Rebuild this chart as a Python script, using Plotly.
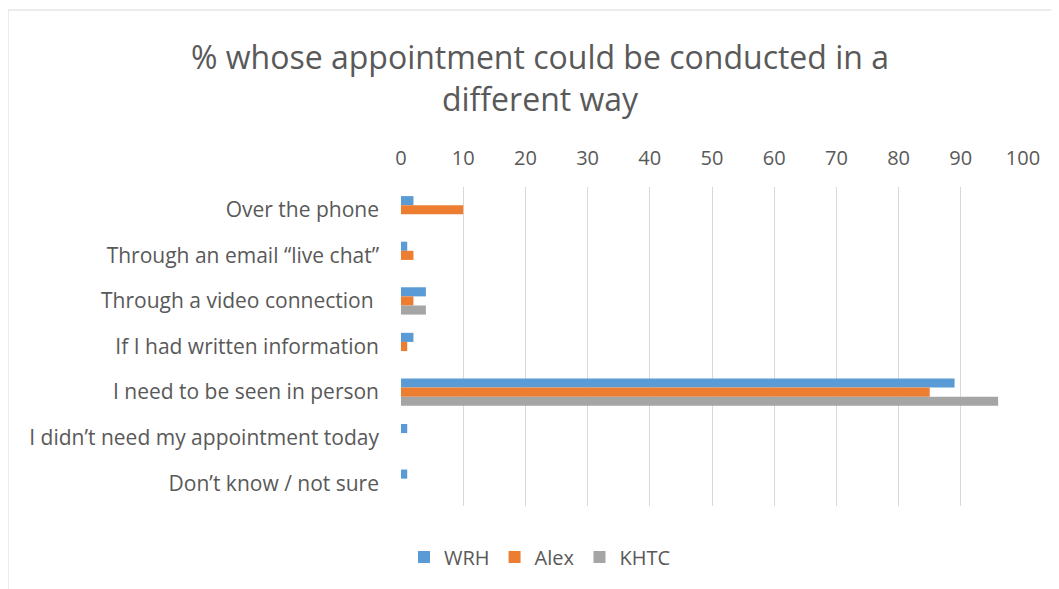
import plotly.graph_objects as go

categories = ["Over the phone", "Through an email \u201clive chat\u201d", "Through a video connection ",
              "If I had written information", "I need to be seen in person",
              "I didn\u2019t need my appointment today", "Don\u2019t know / not sure"]
wrh = [2, 1, 4, 2, 89, 1, 1]
alex = [10, 2, 2, 1, 85, 0, 0]
khtc = [0, 0, 4, 0, 96, 0, 0]
series_names = ["WRH", "Alex", "KHTC"]
colors = ["#5B9BD5", "#ED7D31", "#A5A5A5"]

OFF = 8  # page body margin
W, H = 1059 - OFF, 589 - OFF
L, T = 401 - OFF, 187 - OFF
R = 1059 - 1023
B = 589 - 506
pw, ph = W - L - R, H - T - B

fig = go.Figure()
for name, vals, c in zip(series_names, [wrh, alex, khtc], colors):
    fig.add_trace(go.Bar(y=categories, x=vals, name=name, orientation="h",
                         marker=dict(color=c, line=dict(width=0))))

font_family = "Open Sans, Liberation Sans, sans-serif"
fig.update_layout(
    width=W, height=H,
    margin=dict(l=L, r=R, t=T, b=B, autoexpand=False),
    paper_bgcolor="white", plot_bgcolor="white",
    barmode="group", bargap=0.4, bargroupgap=0,
    font=dict(family=font_family, color="#595959", size=20),
    title=dict(text="% whose appointment could be conducted in a<br>different way",
               x=(540 - OFF) / W, xanchor="center", y=1 - (69 - OFF) / H, yanchor="middle",
               font=dict(size=32, color="#595959", family=font_family)),
    xaxis=dict(side="top", range=[0, 100], dtick=10, showgrid=True,
               gridcolor="#D9D9D9", gridwidth=1, zeroline=False, showline=False,
               ticks="", ticklabelstandoff=17, tickfont=dict(size=20, color="#595959")),
    yaxis=dict(autorange="reversed", showgrid=False, zeroline=False, showline=False,
               ticks="", ticklabelstandoff=21, tickfont=dict(size=21, color="#595959")),
    legend=dict(orientation="h", x=(540 - L - OFF) / pw, xanchor="center",
                y=-(557 - 506) / ph, yanchor="middle",
                font=dict(size=20, color="#595959"), itemwidth=30, traceorder="normal"),
    showlegend=True,
)

# chart border (reference coords: x 8..1058, y 10..bottom off-page)
x0 = (8 - OFF - L) / pw
x1 = (1058 - OFF - L) / pw
y0 = -(600 - 506) / ph
y1 = (506 - 10) / ph
fig.add_shape(type="rect", xref="paper", yref="paper", x0=x0, x1=x1, y0=y0, y1=y1,
              line=dict(color="#D9D9D9", width=1), fillcolor="rgba(0,0,0,0)", layer="below")

fig.write_html("out.html")
